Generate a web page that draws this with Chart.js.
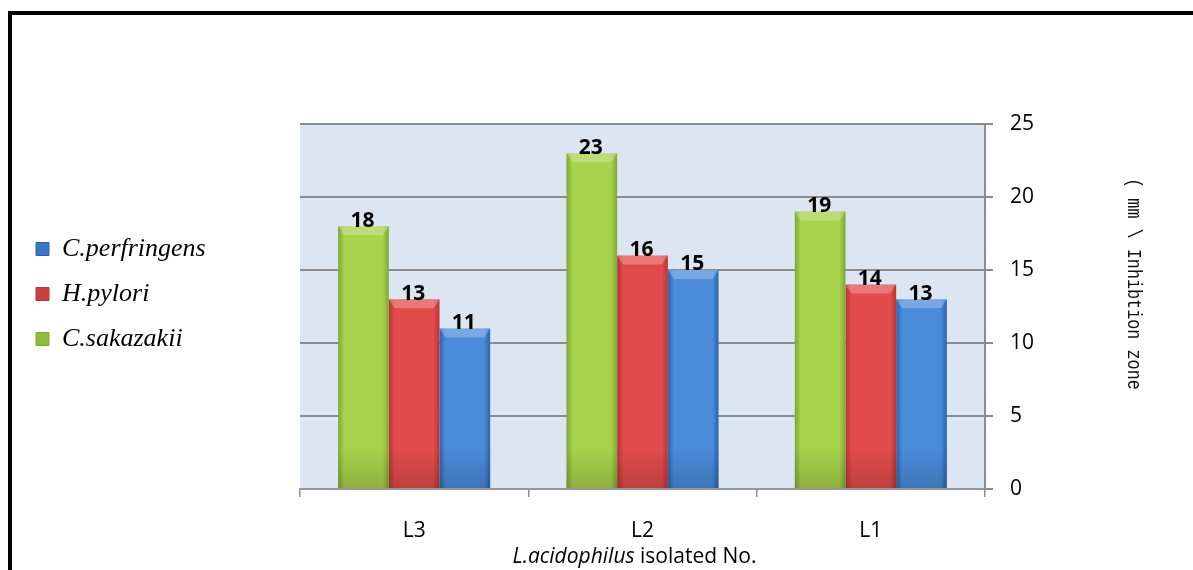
<!DOCTYPE html>
<html>
<head>
<meta charset="utf-8">
<script src="https://cdn.jsdelivr.net/npm/chart.js@4.4.1/dist/chart.umd.min.js"></script>
<style>
html,body{margin:0;padding:0;background:#fff;}
canvas{display:block;}
</style>
</head>
<body>
<canvas id="c" width="1193" height="570"></canvas>
<script>
// ---- data ----
const categories = ['L3', 'L2', 'L1'];
const seriesNames = ['C.sakazakii', 'H.pylori', 'C.perfringens'];
const sakazakiiValues = [18, 23, 19];
const pyloriValues = [13, 16, 14];
const perfringensValues = [11, 15, 13];
const yTickValues = [0, 5, 10, 15, 20, 25];
const yAxisTitle = '( mm \\ Inhibtion zone';
const xAxisTitleItalic = 'L.acidophilus';
const xAxisTitleRest = ' isolated No.';

// ---- styles ----
const palette = [
  {edge: '#7EA832', mid: '#A8D24C', solid: '#8DBB3F'},
  {edge: '#B83434', mid: '#E24B4B', solid: '#C94040'},
  {edge: '#2C62AE', mid: '#4A8BDA', solid: '#3A78C6'}
];
const CAT_PCT = 0.666;
const tickFont = {family: '"Open Sans"', size: 21};

function barFill(i) {
  return function(ctx) {
    const chart = ctx.chart;
    const p = palette[i];
    if (!chart.chartArea || ctx.dataIndex === undefined) return p.solid;
    const xs = chart.scales.x;
    const c = xs.getPixelForValue(ctx.dataIndex);
    const cw = xs.width / categories.length;
    const w = cw * CAT_PCT / 3;
    const cx = c + (i - 1) * w;
    const g = chart.ctx.createLinearGradient(cx - w / 2, 0, cx + w / 2, 0);
    g.addColorStop(0, p.edge);
    g.addColorStop(0.12, p.mid);
    g.addColorStop(0.5, p.mid);
    g.addColorStop(0.88, p.mid);
    g.addColorStop(1, p.edge);
    return g;
  };
}

const seriesValues = [sakazakiiValues, pyloriValues, perfringensValues];

const decorPlugin = {
  id: 'decor',
  beforeLayout(chart) {
    const lg = chart.legend;
    if (lg && !lg._patchedFit) {
      const orig = lg.fit.bind(lg);
      lg.fit = function() { orig(); this.width = 283; };
      lg._patchedFit = true;
    }
  },
  afterLayout(chart) {
    const lg = chart.legend;
    if (lg) { lg.top = 124; lg.bottom = 464; }
  },
  beforeDraw(chart) {
    const {ctx, chartArea: a} = chart;
    ctx.save();
    ctx.fillStyle = '#ffffff';
    ctx.fillRect(0, 0, chart.width, chart.height);
    ctx.fillStyle = '#000000';
    ctx.fillRect(8, 11, chart.width - 8, 4);
    ctx.fillRect(8, 11, 4, chart.height - 11);
    ctx.fillStyle = '#DCE6F2';
    ctx.fillRect(a.left, a.top, a.right - a.left, a.bottom - a.top);
    ctx.restore();
  },
  afterDatasetsDraw(chart) {
    const ctx = chart.ctx;
    ctx.save();
    chart.data.datasets.forEach((ds, i) => {
      const meta = chart.getDatasetMeta(i);
      meta.data.forEach((bar) => {
        const w = bar.width, x0 = bar.x - w / 2, x1 = bar.x + w / 2, y = bar.y;
        ctx.fillStyle = 'rgba(255,255,255,0.25)';
        ctx.beginPath();
        ctx.moveTo(x0, y); ctx.lineTo(x1, y); ctx.lineTo(x1 - 6, y + 9); ctx.lineTo(x0 + 6, y + 9);
        ctx.closePath(); ctx.fill();
        const gb = ctx.createLinearGradient(0, bar.base - 40, 0, bar.base);
        gb.addColorStop(0, 'rgba(0,0,0,0)');
        gb.addColorStop(1, 'rgba(0,0,0,0.16)');
        ctx.fillStyle = gb;
        ctx.fillRect(x0, bar.base - 40, w, 40);
      });
    });
    ctx.fillStyle = '#000';
    ctx.font = 'bold 21px "Open Sans"';
    ctx.textAlign = 'center';
    ctx.textBaseline = 'bottom';
    chart.data.datasets.forEach((ds, i) => {
      const meta = chart.getDatasetMeta(i);
      meta.data.forEach((bar, j) => {
        ctx.fillText(String(ds.data[j]), bar.x - 1, bar.y + 5);
      });
    });
    ctx.restore();
  },
  afterDraw(chart) {
    const ctx = chart.ctx;
    const a = chart.chartArea;
    ctx.save();
    // x axis title
    ctx.fillStyle = '#000';
    ctx.textBaseline = 'middle';
    ctx.textAlign = 'left';
    const fI = 'italic 21px "Open Sans"', fN = '21px "Open Sans"';
    ctx.font = fI; const w1 = ctx.measureText(xAxisTitleItalic).width;
    ctx.font = fN; const w2 = ctx.measureText(xAxisTitleRest).width;
    const cx = (a.left + a.right) / 2 - 8;
    let sx = cx - (w1 + w2) / 2;
    ctx.font = fI; ctx.fillText(xAxisTitleItalic, sx, 557);
    ctx.font = fN; ctx.fillText(xAxisTitleRest, sx + w1, 557);
    // y axis title
    ctx.translate(1134, 284);
    ctx.rotate(Math.PI / 2);
    ctx.scale(0.8, 1);
    ctx.font = '21px "Liberation Mono"';
    ctx.textAlign = 'center';
    ctx.fillStyle = '#111';
    ctx.fillText(yAxisTitle, 0, 0);
    ctx.restore();
  }
};

new Chart(document.getElementById('c'), {
  type: 'bar',
  data: {
    labels: categories,
    datasets: seriesValues.map((vals, i) => ({
      label: seriesNames[i],
      data: vals,
      backgroundColor: barFill(i),
      borderWidth: 0,
      categoryPercentage: CAT_PCT,
      barPercentage: 1.0
    }))
  },
  options: {
    responsive: false,
    animation: false,
    devicePixelRatio: 1,
    layout: {padding: {left: 17, top: 124, right: 0, bottom: 0}},
    plugins: {
      legend: {
        position: 'left',
        align: 'center',
        reverse: true,
        labels: {
          boxWidth: 13,
          boxHeight: 13,
          padding: 19,
          color: '#000',
          font: {family: '"Liberation Serif"', style: 'italic', size: 26},
          generateLabels(chart) {
            return chart.data.datasets.map((ds, i) => ({
              text: ds.label,
              fillStyle: palette[i].solid,
              strokeStyle: palette[i].edge,
              lineWidth: 1,
              hidden: false,
              datasetIndex: i,
              fontColor: '#000'
            }));
          }
        }
      },
      tooltip: {enabled: false},
      title: {display: false}
    },
    scales: {
      x: {
        type: 'category',
        offset: true,
        afterFit(s) { s.height = 81; },
        grid: {offset: true, drawOnChartArea: false, drawTicks: true, tickLength: 8, color: '#8E8E8E', lineWidth: 1.5},
        border: {display: true, color: '#9A9A9A', width: 1.5},
        ticks: {font: tickFont, color: '#000', padding: 21}
      },
      y: {
        position: 'right',
        min: 0,
        max: 25,
        afterFit(s) { s.width = 208; },
        afterBuildTicks(s) { s.ticks = yTickValues.map(v => ({value: v})); },
        grid: {color: '#8C8C8C', lineWidth: 2, drawTicks: true, tickLength: 8},
        border: {display: true, color: '#8C8C8C', width: 2},
        ticks: {font: tickFont, color: '#000', padding: 17}
      }
    }
  },
  plugins: [decorPlugin]
});
</script>
</body>
</html>
